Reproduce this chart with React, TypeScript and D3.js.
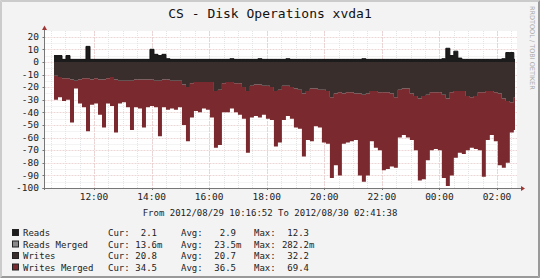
import React from "react";
import * as d3 from "d3";

const TITLE = "CS - Disk Operations xvda1";
const RANGE_TEXT = "From 2012/08/29 10:16:52 To 2012/08/30 02:41:38";
const START = new Date(2012, 7, 29, 10, 16, 52);
const END = new Date(2012, 7, 30, 2, 41, 38);
const DATA_START = new Date(2012, 7, 29, 10, 36, 40);
const STEP_SEC = 500;

const yTicks = [20, 10, 0, -10, -20, -30, -40, -50, -60, -70, -80, -90, -100];

const reads = [5, 5, 2, 5, 2, 2, 2, 2, 12.3, 2, 2, 2, 2, 2, 2, 2, 2, 2, 2, 2,
  2, 2, 2, 2, 10, 6, 5, 6, 2.5, 2, 2, 2, 2, 2, 2, 2, 2, 2, 2, 2,
  2, 2, 2, 2, 2.5, 2, 2, 2, 2, 2, 2, 2.5, 2, 2, 2, 2, 2, 2, 2.5, 2,
  2, 2, 2, 2, 2, 2, 2, 2, 2, 2, 2, 2, 2, 2, 2, 2, 2, 2.5, 2, 2,
  2, 2, 2, 2, 2, 2, 2, 2, 2, 2, 2, 2, 2, 2, 2, 2, 2, 2.5, 10.8, 5,
  8.5, 3, 2, 2, 2, 2, 2, 2, 2, 2, 2, 2, 2.5, 7.4, 7.4, 2];

const readsMerged = [0, 0, 0, 0, 0.02, 0, 0, 0, 0.28, 0, 0, 0, 0, 0, 0, 0, 0, 0, 0, 0,
  0, 0, 0, 0, 0.1, 0, 0, 0, 0, 0, 0, 0, 0, 0, 0, 0, 0, 0, 0, 0,
  0, 0, 0, 0, 0, 0, 0, 0, 0, 0, 0, 0, 0, 0, 0, 0, 0, 0, 0, 0,
  0, 0, 0, 0, 0, 0, 0, 0, 0, 0, 0, 0, 0, 0, 0, 0, 0, 0, 0, 0,
  0, 0, 0, 0, 0, 0, 0, 0, 0, 0, 0, 0, 0, 0, 0, 0, 0, 0, 0.2, 0,
  0.05, 0, 0, 0, 0, 0, 0, 0, 0, 0, 0, 0, 0, 0.01, 0.01, 0];

const writes = [11, 12, 13, 13, 14, 15, 14, 13, 13, 14, 13, 14, 14, 13, 12, 14, 15, 15, 15, 15,
  14, 14, 14, 14, 14, 15, 15, 14, 14, 15, 15, 15, 18, 20, 17, 16, 16, 16, 16, 16,
  23, 22, 17, 16, 16, 17, 17, 20, 23, 19, 18, 18, 19, 19, 20, 23, 22, 19, 19, 20,
  21, 22, 25, 23, 21, 21, 22, 22, 23, 28, 25, 24, 25, 24, 24, 25, 25, 26, 25, 23,
  23, 24, 24, 24, 25, 28, 22, 21, 21, 25, 27, 29, 27, 26, 24, 24, 24, 26, 29, 24,
  23, 23, 23, 27, 28, 27, 24, 24, 23, 23, 24, 25, 29, 31, 32, 28];

const writesMerged = [19, 16, 18, 17, 34, 6, 19, 23, 42, 20, 20, 28, 38, 20, 23, 42, 18, 17, 21, 39,
  22, 23, 38, 22, 21, 21, 44, 22, 24, 22, 23, 21, 32, 43, 27, 23, 24, 21, 22, 28,
  45, 44, 23, 24, 21, 23, 25, 25, 49, 25, 25, 26, 23, 26, 26, 44, 42, 27, 24, 25,
  31, 31, 50, 39, 42, 30, 30, 42, 42, 64, 57, 66, 40, 40, 39, 37, 65, 69, 65, 40,
  45, 46, 62, 61, 58, 56, 38, 37, 39, 37, 43, 65, 66, 52, 46, 45, 46, 66, 69.4, 66,
  53, 49, 50, 43, 40, 42, 46, 67, 39, 35, 39, 57, 55, 49, 24, 26];

const legendNames = ["Reads", "Reads Merged", "Writes", "Writes Merged"];
const legendColors = ["#1c1c1c", "#8a8a8a", "#3a2e2d", "#7a2a2f"];
const curVals = ["2.1", "13.6m", "20.8", "34.5"];
const avgVals = ["2.9", "23.5m", "20.7", "36.5"];
const maxVals = ["12.3", "282.2m", "32.2", "69.4"];

const MONO = "'DejaVu Sans Mono', monospace";
const CH = 5.42;

export default function App() {
  const L = 44.5, R = 517, T = 31, B = 188;
  const x = d3.scaleTime().domain([START, END]).range([L, R]);
  const y = d3.scaleLinear().domain([-100, 24.5]).range([B, T]);

  const times = reads.map((_, i) => new Date(DATA_START.getTime() + i * STEP_SEC * 1000));
  const endTime = x.invert(515);
  const n = reads.length;

  type P = { t: Date; y0: number; y1: number };
  const mk = (f0: (i: number) => number, f1: (i: number) => number): P[] => {
    const pts: P[] = times.map((t, i) => ({ t, y0: f0(i), y1: f1(i) }));
    pts.push({ t: endTime, y0: f0(n - 1), y1: f1(n - 1) });
    return pts;
  };
  const area = d3.area<P>().x(d => x(d.t)).y0(d => y(d.y0)).y1(d => y(d.y1)).curve(d3.curveStepAfter);
  const topLine = d3.line<P>().x(d => x(d.t)).y(d => y(d.y1)).curve(d3.curveStepAfter);

  const readsPts = mk(() => 0, i => reads[i]);
  const rmPts = mk(i => reads[i], i => reads[i] + readsMerged[i]);
  const writesPts = mk(() => 0, i => -writes[i]);
  const wmPts = mk(i => -writes[i], i => -(writes[i] + writesMerged[i]));

  const minorX = d3.timeMinute.every(30)!.range(START, END);
  const majorX = d3.timeHour.every(2)!.range(START, END);
  const fmt = d3.timeFormat("%H:%M");
  const minorY = d3.range(-100, 25, 5);

  const rowY = [236, 247.5, 259, 270.5];
  const valX = (v: string, base: number) => (v.endsWith("m") ? base + CH : base);

  return (
    <svg width={540} height={278} style={{ position: "absolute", left: 0, top: 0, display: "block" }}
      fontFamily={MONO}>
      <defs>
        <clipPath id="plotclip"><rect x={L} y={T} width={R - L} height={B - T} /></clipPath>
      </defs>
      <rect x={0} y={0} width={540} height={278} fill="#f3f3f3" />
      <path d="M0.5,277.5 V0.5 H539.5" fill="none" stroke="#cbcbcb" strokeWidth={1} />
      <path d="M0.5,277.5 H539.5 V0.5" fill="none" stroke="#999" strokeWidth={1} />
      <path d="M1.5,276.5 V1.5 H538.5" fill="none" stroke="#cbcbcb" strokeWidth={1} />
      <path d="M1.5,276.5 H538.5 V1.5" fill="none" stroke="#999" strokeWidth={1} />
      <rect x={L} y={T} width={R - L} height={B - T} fill="#ffffff" />

      {minorY.map(v => (
        <line key={"my" + v} x1={L} x2={R} y1={Math.round(y(v)) + 0.5} y2={Math.round(y(v)) + 0.5}
          stroke={v % 10 === 0 ? "#ecd6d6" : "#e8e8e8"} strokeWidth={1} strokeDasharray={v % 10 === 0 ? "2,1" : "1,1"} />
      ))}
      {minorX.map(t => (
        <line key={"mx" + t.getTime()} x1={Math.round(x(t)) + 0.5} x2={Math.round(x(t)) + 0.5} y1={T} y2={B}
          stroke="#e4e4e4" strokeWidth={1} strokeDasharray="1,1" />
      ))}
      {majorX.map(t => (
        <line key={"Mx" + t.getTime()} x1={Math.round(x(t)) + 0.5} x2={Math.round(x(t)) + 0.5} y1={T} y2={B}
          stroke="#ecd2d2" strokeWidth={1} strokeDasharray="2,1" />
      ))}

      <g clipPath="url(#plotclip)">
        <path d={area(wmPts) || ""} fill={legendColors[3]} />
        <path d={area(writesPts) || ""} fill={legendColors[2]} />
        <path d={area(readsPts) || ""} fill={legendColors[0]} />
        <path d={area(rmPts) || ""} fill={legendColors[1]} />
        <path d={topLine(readsPts) || ""} fill="none" stroke="#111" strokeWidth={1} />
      </g>

      {/* axes */}
      <line x1={L - 2} x2={521} y1={B + 0.5} y2={B + 0.5} stroke="#777" strokeWidth={1} />
      <line x1={L} x2={L} y1={B + 2} y2={29} stroke="#777" strokeWidth={1} />
      <path d={`M521,${B - 2} L525,${B + 0.5} L521,${B + 3} Z`} fill="#a03535" />
      <path d={`M${L - 2.5},30 L${L},25.5 L${L + 2.5},30 Z`} fill="#a03535" />
      {yTicks.map(v => (
        <g key={"yt" + v}>
          <line x1={L - 2} x2={L} y1={Math.round(y(v)) + 0.5} y2={Math.round(y(v)) + 0.5} stroke="#777" />
          <text x={39} y={y(v) + 3.3} textAnchor="end" fontSize={9.5} fill="#222">{v}</text>
        </g>
      ))}
      {majorX.map(t => (
        <g key={"xt" + t.getTime()}>
          <line x1={Math.round(x(t)) + 0.5} x2={Math.round(x(t)) + 0.5} y1={B} y2={B + 2} stroke="#777" />
          <text x={x(t)} y={200} textAnchor="middle" fontSize={9.5} fill="#222">{fmt(t)}</text>
        </g>
      ))}

      <text x={270} y={18} textAnchor="middle" fontSize={13} fill="#111">{TITLE}</text>
      <text x={270} y={216} textAnchor="middle" fontSize={9} fill="#222">{RANGE_TEXT}</text>
      <text transform="translate(530,6) rotate(90)" fontSize={6.5} fill="#aaa"
        fontFamily="'DejaVu Sans', sans-serif">RRDTOOL / TOBI OETIKER</text>

      {legendNames.map((name, i) => (
        <g key={name} fontSize={9} fill="#222">
          <rect x={12.5} y={rowY[i] - 6.5} width={6} height={6} fill={legendColors[i]} stroke="#222" strokeWidth={1} />
          <text x={23} y={rowY[i]}>{name}</text>
          <text x={108} y={rowY[i]}>Cur:</text>
          <text x={valX(curVals[i], 157)} y={rowY[i]} textAnchor="end">{curVals[i]}</text>
          <text x={181} y={rowY[i]}>Avg:</text>
          <text x={valX(avgVals[i], 236)} y={rowY[i]} textAnchor="end">{avgVals[i]}</text>
          <text x={254} y={rowY[i]}>Max:</text>
          <text x={valX(maxVals[i], 309)} y={rowY[i]} textAnchor="end">{maxVals[i]}</text>
        </g>
      ))}
    </svg>
  );
}
